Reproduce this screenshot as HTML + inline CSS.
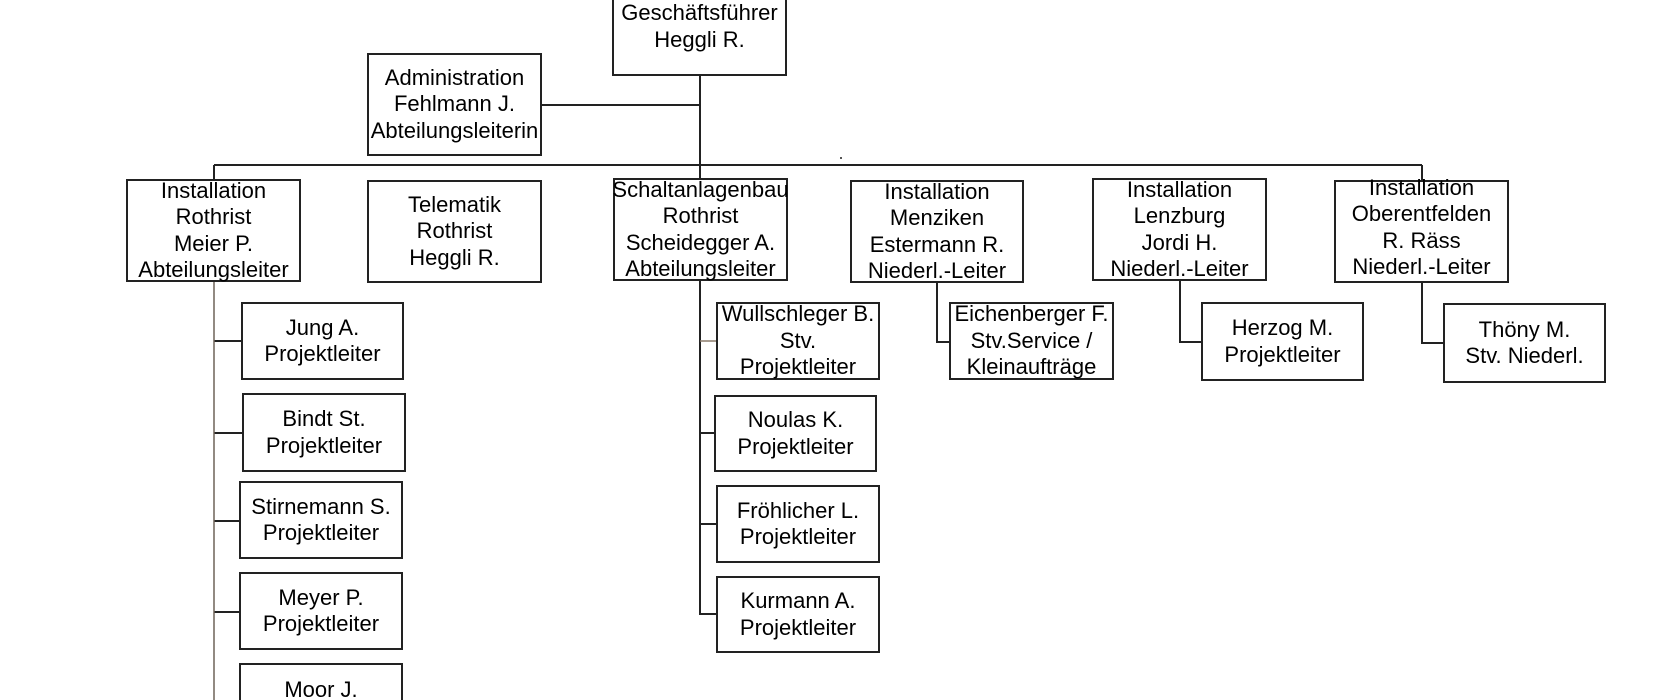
<!DOCTYPE html>
<html><head><meta charset="utf-8"><style>
html,body{margin:0;padding:0;background:#fff;width:1680px;height:700px;overflow:hidden;}
#w{width:1680px;height:700px;position:relative;overflow:hidden;font-family:"Liberation Sans",Arial,sans-serif;}
.b{position:absolute;box-sizing:border-box;border:2px solid #222;background:#fff;display:flex;flex-direction:column;justify-content:center;align-items:center;text-align:center;font-size:22px;line-height:26.5px;color:#000;white-space:nowrap;}
svg{position:absolute;left:0;top:0;}
</style></head><body><div id="w">
<svg width="1680" height="700">
<g stroke="#222" stroke-width="2" fill="none">
<line x1="700" y1="76" x2="700" y2="180"/>
<line x1="542" y1="105" x2="700" y2="105"/>
<line x1="214" y1="165" x2="1422" y2="165"/>
<line x1="214" y1="165" x2="214" y2="180"/>
<line x1="1422" y1="165" x2="1422" y2="181"/>
<line x1="700" y1="281" x2="700" y2="615"/>
<line x1="937" y1="283" x2="937" y2="342"/>
<line x1="936" y1="342" x2="949" y2="342"/>
<line x1="1180" y1="281" x2="1180" y2="342"/>
<line x1="1179" y1="342" x2="1201" y2="342"/>
<line x1="1422" y1="283" x2="1422" y2="343"/>
<line x1="1421" y1="343" x2="1443" y2="343"/>
<line x1="214" y1="341" x2="241" y2="341"/>
<line x1="214" y1="433" x2="242" y2="433"/>
<line x1="214" y1="521" x2="239" y2="521"/>
<line x1="214" y1="612" x2="239" y2="612"/>
<line x1="700" y1="433" x2="714" y2="433"/>
<line x1="700" y1="524" x2="716" y2="524"/>
<line x1="699" y1="614" x2="716" y2="614"/>
</g>
<line x1="214" y1="282" x2="214" y2="700" stroke="#6e6358" stroke-width="1.5"/>
<line x1="700" y1="341" x2="716" y2="341" stroke="#8a7a6a" stroke-width="1.5"/>
<rect x="840" y="157" width="2" height="2" fill="#555"/>
</svg>
<div class="b" style="left:612px;top:0;width:175px;height:76px;border-top:none;justify-content:flex-start;padding-top:0;">Geschäftsführer<br>Heggli R.</div>
<div class="b" style="left:367px;top:53px;width:175px;height:103px;">Administration<br>Fehlmann J.<br>Abteilungsleiterin</div>
<div class="b" style="left:126px;top:179px;width:175px;height:103px;">Installation<br>Rothrist<br>Meier P.<br>Abteilungsleiter</div>
<div class="b" style="left:367px;top:180px;width:175px;height:103px;">Telematik<br>Rothrist<br>Heggli R.</div>
<div class="b" style="left:613px;top:178px;width:175px;height:103px;">Schaltanlagenbau<br>Rothrist<br>Scheidegger A.<br>Abteilungsleiter</div>
<div class="b" style="left:850px;top:180px;width:174px;height:103px;">Installation<br>Menziken<br>Estermann R.<br>Niederl.-Leiter</div>
<div class="b" style="left:1092px;top:178px;width:175px;height:103px;">Installation<br>Lenzburg<br>Jordi H.<br>Niederl.-Leiter</div>
<div class="b" style="left:1334px;top:180px;width:175px;height:103px;padding-bottom:8px;">Installation<br>Oberentfelden<br>R. Räss<br>Niederl.-Leiter</div>
<div class="b" style="left:949px;top:302px;width:165px;height:78px;">Eichenberger F.<br>Stv.Service /<br>Kleinaufträge</div>
<div class="b" style="left:1201px;top:302px;width:163px;height:79px;">Herzog M.<br>Projektleiter</div>
<div class="b" style="left:1443px;top:303px;width:163px;height:80px;">Thöny M.<br>Stv. Niederl.</div>
<div class="b" style="left:241px;top:302px;width:163px;height:78px;">Jung A.<br>Projektleiter</div>
<div class="b" style="left:242px;top:393px;width:164px;height:79px;">Bindt St.<br>Projektleiter</div>
<div class="b" style="left:239px;top:481px;width:164px;height:78px;">Stirnemann S.<br>Projektleiter</div>
<div class="b" style="left:239px;top:572px;width:164px;height:78px;">Meyer P.<br>Projektleiter</div>
<div class="b" style="left:239px;top:663px;width:164px;height:37px;border-bottom:none;justify-content:flex-start;padding-top:12px;overflow:hidden;">Moor J.</div>
<div class="b" style="left:716px;top:302px;width:164px;height:78px;">Wullschleger B.<br>Stv.<br>Projektleiter</div>
<div class="b" style="left:714px;top:395px;width:163px;height:77px;">Noulas K.<br>Projektleiter</div>
<div class="b" style="left:716px;top:485px;width:164px;height:78px;">Fröhlicher L.<br>Projektleiter</div>
<div class="b" style="left:716px;top:576px;width:164px;height:77px;">Kurmann A.<br>Projektleiter</div>
</div></body></html>
